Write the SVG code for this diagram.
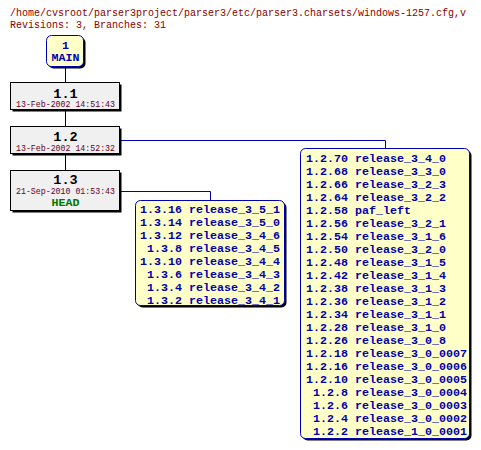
<svg xmlns="http://www.w3.org/2000/svg" width="481" height="450" viewBox="0 0 481 450">
<style>
.t{font-family:"Liberation Mono","DejaVu Sans Mono",monospace;}
.title{font-size:10px;fill:#880000;}
.rev{fill:#f0f0f0;stroke:#000;stroke-width:1;}
.br{fill:#ffffc8;stroke:#0000b0;stroke-width:1;}
.sh{fill:#000;}
.num{font-size:13.5px;font-weight:bold;fill:#000;text-anchor:middle;}
.date{font-size:8.25px;fill:#660022;text-anchor:middle;}
.bt{font-size:11.67px;font-weight:bold;fill:#0000b0;}
.e{text-anchor:end;}
.m{text-anchor:middle;}
.head{font-size:11.67px;font-weight:bold;fill:#007700;text-anchor:middle;}
.vl{stroke:#000;stroke-width:1;fill:none;}
.bl{stroke:#0000b0;stroke-width:1;fill:none;}
</style>
<rect width="481" height="450" fill="#fff"/>
<text class="t title" x="10" y="16">/home/cvsroot/parser3project/parser3/etc/parser3.charsets/windows-1257.cfg,v</text>
<text class="t title" x="10" y="28">Revisions: 3, Branches: 31</text>
<g id="connectors">
<path class="vl" d="M65.5 67V82M65.5 110V126M65.5 154V170"/>
<path class="bl" d="M121 140.5H385.5V148.5"/>
<path class="bl" d="M121 191.5H210.5V200.5"/>
</g>
<g id="main">
<rect class="sh" x="48.5" y="37.5" width="37" height="31" rx="5"/>
<rect class="br" x="46.5" y="35.5" width="37" height="31" rx="5"/>
<text class="t bt m" x="65.5" y="48.5">1</text>
<text class="t bt m" x="65.5" y="61">MAIN</text>
</g>
<g id="r1_1">
<rect class="sh" x="12.5" y="84.5" width="109" height="27"/>
<rect class="rev" x="10.5" y="82.5" width="109" height="27"/>
<text class="t num" x="65.5" y="97.5">1.1</text>
<text class="t date" x="65.5" y="107">13-Feb-2002 14:51:43</text>
</g>
<g id="r1_2">
<rect class="sh" x="12.5" y="128.5" width="109" height="27"/>
<rect class="rev" x="10.5" y="126.5" width="109" height="27"/>
<text class="t num" x="65.5" y="141.2">1.2</text>
<text class="t date" x="65.5" y="150.7">13-Feb-2002 14:52:32</text>
</g>
<g id="r1_3">
<rect class="sh" x="12.5" y="172.5" width="109" height="40"/>
<rect class="rev" x="10.5" y="170.5" width="109" height="40"/>
<text class="t num" x="65.5" y="184.4">1.3</text>
<text class="t date" x="65.5" y="194.4">21-Sep-2010 01:53:43</text>
<text class="t head" x="65.5" y="206">HEAD</text>
</g>
<g id="b1_3">
<rect class="sh" x="137.5" y="202.5" width="149" height="105" rx="5"/>
<rect class="br" x="135.5" y="200.5" width="149" height="105" rx="5"/>
<g class="t bt">
<text class="e" x="182" y="213">1.3.16</text><text x="189" y="213">release_3_5_1</text>
<text class="e" x="182" y="226">1.3.14</text><text x="189" y="226">release_3_5_0</text>
<text class="e" x="182" y="239">1.3.12</text><text x="189" y="239">release_3_4_6</text>
<text class="e" x="182" y="252">1.3.8</text><text x="189" y="252">release_3_4_5</text>
<text class="e" x="182" y="265">1.3.10</text><text x="189" y="265">release_3_4_4</text>
<text class="e" x="182" y="278">1.3.6</text><text x="189" y="278">release_3_4_3</text>
<text class="e" x="182" y="291">1.3.4</text><text x="189" y="291">release_3_4_2</text>
<text class="e" x="182" y="304">1.3.2</text><text x="189" y="304">release_3_4_1</text>
</g>
</g>
<g id="b1_2">
<rect class="sh" x="302.5" y="150.5" width="169" height="290" rx="5"/>
<rect class="br" x="300.5" y="148.5" width="169" height="290" rx="5"/>
<g class="t bt">
<text class="e" x="348" y="161.5">1.2.70</text><text x="355" y="161.5">release_3_4_0</text>
<text class="e" x="348" y="174.5">1.2.68</text><text x="355" y="174.5">release_3_3_0</text>
<text class="e" x="348" y="187.5">1.2.66</text><text x="355" y="187.5">release_3_2_3</text>
<text class="e" x="348" y="200.5">1.2.64</text><text x="355" y="200.5">release_3_2_2</text>
<text class="e" x="348" y="213.5">1.2.58</text><text x="355" y="213.5">paf_left</text>
<text class="e" x="348" y="226.5">1.2.56</text><text x="355" y="226.5">release_3_2_1</text>
<text class="e" x="348" y="239.5">1.2.54</text><text x="355" y="239.5">release_3_1_6</text>
<text class="e" x="348" y="252.5">1.2.50</text><text x="355" y="252.5">release_3_2_0</text>
<text class="e" x="348" y="265.5">1.2.48</text><text x="355" y="265.5">release_3_1_5</text>
<text class="e" x="348" y="278.5">1.2.42</text><text x="355" y="278.5">release_3_1_4</text>
<text class="e" x="348" y="291.5">1.2.38</text><text x="355" y="291.5">release_3_1_3</text>
<text class="e" x="348" y="304.5">1.2.36</text><text x="355" y="304.5">release_3_1_2</text>
<text class="e" x="348" y="317.5">1.2.34</text><text x="355" y="317.5">release_3_1_1</text>
<text class="e" x="348" y="330.5">1.2.28</text><text x="355" y="330.5">release_3_1_0</text>
<text class="e" x="348" y="343.5">1.2.26</text><text x="355" y="343.5">release_3_0_8</text>
<text class="e" x="348" y="356.5">1.2.18</text><text x="355" y="356.5">release_3_0_0007</text>
<text class="e" x="348" y="369.5">1.2.16</text><text x="355" y="369.5">release_3_0_0006</text>
<text class="e" x="348" y="382.5">1.2.10</text><text x="355" y="382.5">release_3_0_0005</text>
<text class="e" x="348" y="395.5">1.2.8</text><text x="355" y="395.5">release_3_0_0004</text>
<text class="e" x="348" y="408.5">1.2.6</text><text x="355" y="408.5">release_3_0_0003</text>
<text class="e" x="348" y="421.5">1.2.4</text><text x="355" y="421.5">release_3_0_0002</text>
<text class="e" x="348" y="434.5">1.2.2</text><text x="355" y="434.5">release_1_0_0001</text>
</g>
</g>
</svg>
